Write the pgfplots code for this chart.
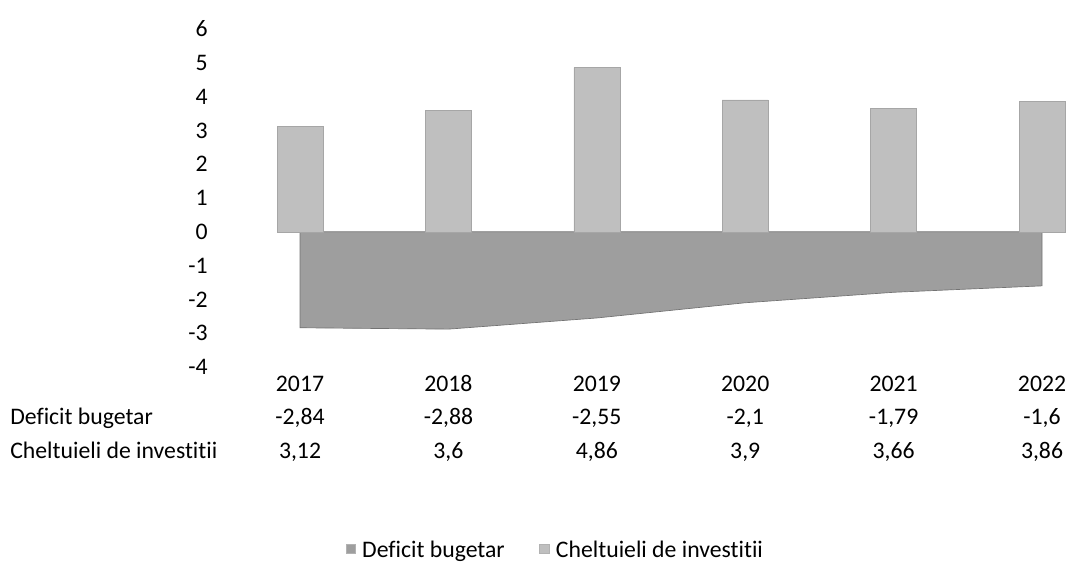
\documentclass[border=0pt]{standalone}
\usepackage{pgfplots}
\pgfplotsset{compat=1.18}
\usepackage{fontspec}
\setmainfont{Carlito}[Ligatures=NoCommon]
\begin{document}
\begin{tikzpicture}[tl/.style={font=\fontsize{17.8}{21}\selectfont, inner sep=0pt, anchor=base}]
\begin{axis}[
  scale only axis,
  width=631.1pt, height=253.5pt,
  xmin=-0.5, xmax=5.17,
  ymin=-4, ymax=6,
  clip=false,
  axis line style={draw=none},
  tick style={draw=none},
  ytick={-4,-3,-2,-1,0,1,2,3,4,5,6},
  yticklabels={-4,-3,-2,-1,0,1,2,3,4,5,6},
  yticklabel style={font=\fontsize{17.8}{21}\selectfont, xshift=-10pt},
  xtick=\empty,
  legend style={at={(rel axis cs:0.392,-0.541)}, anchor=center, draw=none,
    font=\fontsize{17.8}{21}\selectfont, legend columns=2,
    /tikz/every odd column/.append style={column sep=3pt},
    /tikz/every even column/.append style={column sep=24pt}},
  legend image code/.code={\draw[#1, draw=gray!60, line width=0.3pt] (0cm,-0.1cm) rectangle (0.25cm,0.15cm);},
]
\addplot[fill=black!38, draw=black!55, line width=0.5pt] coordinates {(0,-2.84) (1,-2.88) (2,-2.55) (3,-2.1) (4,-1.79) (5,-1.6)} \closedcycle;
\addlegendentry{Deficit bugetar}
\addplot[ybar, bar width=34.5pt, fill=black!25, draw=black!35, line width=0.3pt] coordinates {(0,3.12) (1,3.6) (2,4.86) (3,3.9) (4,3.66) (5,3.86)};
\addlegendentry{Cheltuieli de investitii}

\path[draw=none] (axis cs:-2.0216,6.858) rectangle (axis cs:5.175,-10.036);

\node[tl] at (axis cs:0,-4.725) {2017};
\node[tl] at (axis cs:1,-4.725) {2018};
\node[tl] at (axis cs:2,-4.725) {2019};
\node[tl] at (axis cs:3,-4.725) {2020};
\node[tl] at (axis cs:4,-4.725) {2021};
\node[tl] at (axis cs:5,-4.725) {2022};
\node[tl, anchor=base west] at (axis cs:-1.954,-5.70) {Deficit bugetar};
\node[tl, anchor=base west] at (axis cs:-1.954,-6.71) {Cheltuieli de investitii};
\node[tl] at (axis cs:0,-5.70) {-2,84};
\node[tl] at (axis cs:1,-5.70) {-2,88};
\node[tl] at (axis cs:2,-5.70) {-2,55};
\node[tl] at (axis cs:3,-5.70) {-2,1};
\node[tl] at (axis cs:4,-5.70) {-1,79};
\node[tl] at (axis cs:5,-5.70) {-1,6};
\node[tl] at (axis cs:0,-6.71) {3,12};
\node[tl] at (axis cs:1,-6.71) {3,6};
\node[tl] at (axis cs:2,-6.71) {4,86};
\node[tl] at (axis cs:3,-6.71) {3,9};
\node[tl] at (axis cs:4,-6.71) {3,66};
\node[tl] at (axis cs:5,-6.71) {3,86};
\end{axis}
\end{tikzpicture}
\end{document}
